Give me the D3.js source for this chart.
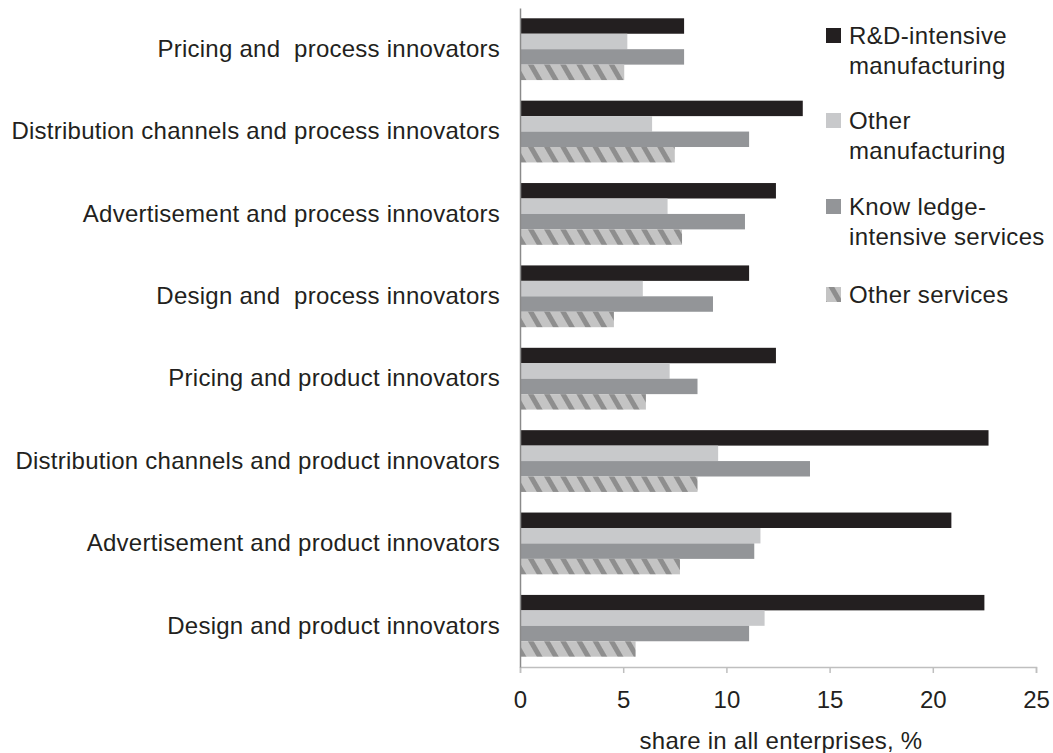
<!DOCTYPE html>
<html>
<head>
<meta charset="utf-8">
<script src="https://cdn.jsdelivr.net/npm/d3@7"></script>
<style>
  html, body { margin: 0; padding: 0; background: #fff; }
  svg { display: block; }
  text { font-family: "Liberation Sans", Arial, sans-serif; fill: #231f20; }
</style>
</head>
<body>
<svg id="chart" width="1053" height="753"></svg>
<script>
// Categories (top to bottom)
const categories = [
  "Pricing and  process innovators",
  "Distribution channels and process innovators",
  "Advertisement and process innovators",
  "Design and  process innovators",
  "Pricing and product innovators",
  "Distribution channels and product innovators",
  "Advertisement and product innovators",
  "Design and product innovators"
];
// Series names
const seriesNames = ["R&D-intensive manufacturing", "Other manufacturing", "Knowledge-intensive services", "Other services"];
const legendLines = [["R&D-intensive", "manufacturing"], ["Other", "manufacturing"], ["Know ledge-", "intensive services"], ["Other services"]];
// Values (share in all enterprises, %)
const rdManufacturing    = [7.95, 13.7, 12.4, 11.1, 12.4, 22.7, 20.9, 22.5];
const otherManufacturing = [5.2, 6.4, 7.15, 5.95, 7.25, 9.6, 11.65, 11.85];
const knowledgeServices  = [7.95, 11.1, 10.9, 9.35, 8.6, 14.05, 11.35, 11.1];
const otherServices      = [5.05, 7.5, 7.85, 4.55, 6.1, 8.6, 7.75, 5.6];
const xTicks = [0, 5, 10, 15, 20, 25];
const axisTitle = "share in all enterprises, %";

const seriesValues = [rdManufacturing, otherManufacturing, knowledgeServices, otherServices];
const fills = ["#231f20", "#c8c9cb", "#939598", "url(#hatch)"];

const svg = d3.select("#chart");
const defs = svg.append("defs");
const pat = defs.append("pattern")
  .attr("id", "hatch")
  .attr("patternUnits", "userSpaceOnUse")
  .attr("width", 14).attr("height", 14)
  .attr("patternTransform", "rotate(-30)");
pat.append("rect").attr("width", 14).attr("height", 14).attr("fill", "#c4c4c4");
pat.append("rect").attr("x", 0).attr("width", 5).attr("height", 14).attr("fill", "#8e8e8e");

const x = d3.scaleLinear().domain([0, 25]).range([520, 1036]);
const y = d3.scaleBand().domain(categories).range([8, 667]).paddingInner(0.25).paddingOuter(0.125);
const ySub = d3.scaleBand().domain(d3.range(seriesValues.length)).range([0, y.bandwidth()]);

// bars
categories.forEach((cat, ci) => {
  const g = svg.append("g").attr("transform", `translate(0,${y(cat)})`);
  seriesValues.forEach((vals, si) => {
    g.append("rect")
      .attr("x", x(0))
      .attr("y", ySub(si))
      .attr("width", x(vals[ci]) - x(0))
      .attr("height", ySub.bandwidth())
      .attr("fill", fills[si]);
  });
});

// x axis
const xAxis = d3.axisBottom(x).tickValues(xTicks).tickSize(6).tickPadding(18).tickFormat(d3.format("d"));
const gx = svg.append("g").attr("transform", "translate(0,667)").call(xAxis);
gx.select(".domain").attr("stroke", "#bfbfbf").attr("stroke-width", 1.5);
gx.selectAll(".tick line").attr("stroke", "#bfbfbf").attr("stroke-width", 1.5);
gx.selectAll(".tick text").style("font-size", "24px").attr("fill", "#231f20")
  .style("font-family", '"Liberation Sans", Arial, sans-serif');

// y axis
const yAxis = d3.axisLeft(y).tickSize(0).tickPadding(20);
const gy = svg.append("g").attr("transform", `translate(${x(0)},0)`).call(yAxis);
gy.select(".domain").attr("stroke", "#8a8a8a").attr("stroke-width", 1.5);
gy.selectAll(".tick text").style("font-size", "24px").attr("fill", "#231f20")
  .style("font-family", '"Liberation Sans", Arial, sans-serif')
  .style("letter-spacing", "0.25px")
  .style("white-space", "pre");

// axis title
svg.append("text")
  .attr("x", (x(0) + x(25)) / 2 + 3)
  .attr("y", 741)
  .attr("dy", "0.35em")
  .attr("text-anchor", "middle")
  .style("font-size", "24px")
  .style("letter-spacing", "0.25px")
  .text(axisTitle);

// legend
const legendTop = [40, 125, 211, 299];
const lg = svg.append("g");
legendLines.forEach((lines, i) => {
  lg.append("rect")
    .attr("x", 826).attr("y", legendTop[i] - 12)
    .attr("width", 15).attr("height", 15)
    .attr("fill", fills[i]);
  lines.forEach((ln, j) => {
    lg.append("text")
      .attr("x", 849)
      .attr("y", legendTop[i] - 4 + j * 30)
      .attr("dy", "0.35em")
      .style("font-size", "24px")
      .style("letter-spacing", "0.35px")
      .style("white-space", "pre")
      .text(ln);
  });
});
</script>
</body>
</html>
